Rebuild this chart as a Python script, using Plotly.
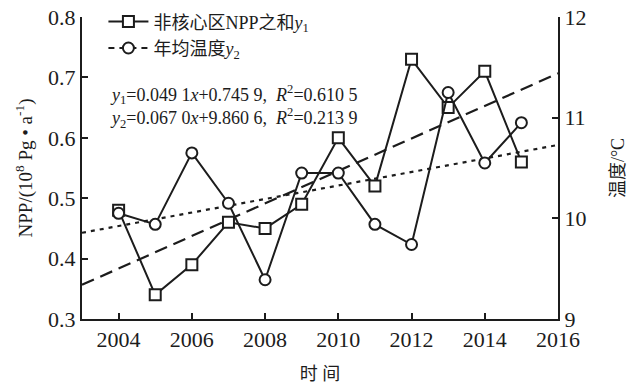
import numpy as np
import plotly.graph_objects as go

# ---- data ----
years = [2004, 2005, 2006, 2007, 2008, 2009, 2010, 2011, 2012, 2013, 2014, 2015]
npp_sum = [0.48, 0.34, 0.39, 0.46, 0.45, 0.49, 0.60, 0.52, 0.73, 0.65, 0.71, 0.56]
mean_temp = [10.05, 9.94, 10.65, 10.15, 9.39, 10.45, 10.45, 9.94, 9.74, 11.25, 10.55, 10.95]

x_ticks = [2004, 2006, 2008, 2010, 2012, 2014, 2016]
left_ticks = [0.3, 0.4, 0.5, 0.6, 0.7, 0.8]
right_ticks = [9, 10, 11, 12]

x_range = [2003, 2016]
left_range = [0.3, 0.8]
right_range = [9, 12]

legend_npp = "非核心区NPP之和<i>y</i><sub>1</sub>"
legend_temp = "年均温度<i>y</i><sub>2</sub>"
eq_lines = [
    "<i>y</i><sub>1</sub>=0.049 1<i>x</i>+0.745 9,  <i>R</i><sup>2</sup>=0.610 5",
    "<i>y</i><sub>2</sub>=0.067 0<i>x</i>+9.860 6,  <i>R</i><sup>2</sup>=0.213 9",
]
x_title = "时 间"
left_title = "NPP/(10<sup>8</sup> Pg • a<sup>-1</sup>)"
right_title = "温度/°C"

FONT = "Liberation Serif, Times New Roman, Noto Sans CJK SC, serif"
INK = "#1c1c1c"

# linear trends computed from the data, drawn across the x range
idx = np.array(years) - x_range[0]
p_npp = np.polyfit(idx, npp_sum, 1)
p_tmp = np.polyfit(idx, mean_temp, 1)
trend_x = np.array(x_range)
trend_npp = np.polyval(p_npp, trend_x - x_range[0])
trend_tmp = np.polyval(p_tmp, trend_x - x_range[0])

fig = go.Figure()

fig.add_trace(go.Scatter(
    x=trend_x, y=trend_npp, mode="lines", yaxis="y", showlegend=False,
    line=dict(color=INK, width=2.2, dash="13px,7px"), hoverinfo="skip"))
fig.add_trace(go.Scatter(
    x=trend_x, y=trend_tmp, mode="lines", yaxis="y2", showlegend=False,
    line=dict(color=INK, width=2.2, dash="4px,5px"), hoverinfo="skip"))

fig.add_trace(go.Scatter(
    x=years, y=npp_sum, mode="lines+markers", name=legend_npp, yaxis="y",
    line=dict(color=INK, width=2),
    marker=dict(symbol="square", size=11, color="white", line=dict(color=INK, width=2))))
fig.add_trace(go.Scatter(
    x=years, y=mean_temp, mode="lines+markers", name=legend_temp, yaxis="y2",
    showlegend=False,
    line=dict(color=INK, width=2),
    marker=dict(symbol="circle", size=11, color="white", line=dict(color=INK, width=2))))
# legend entry for temperature with a dashed key
fig.add_trace(go.Scatter(
    x=[None], y=[None], mode="lines+markers", name=legend_temp, yaxis="y2",
    line=dict(color=INK, width=2, dash="6px,5px"),
    marker=dict(symbol="circle", size=11, color="white", line=dict(color=INK, width=2))))

fig.add_annotation(
    xref="paper", yref="paper", x=0.055, y=0.705, xanchor="left", yanchor="middle",
    text=eq_lines[0] + "<br>" + eq_lines[1], showarrow=False, align="left",
    font=dict(family=FONT, size=18, color=INK))

axis_common = dict(
    showgrid=False, zeroline=False, showline=True, linecolor=INK, linewidth=2,
    ticks="inside", ticklen=6, tickwidth=2, tickcolor=INK, automargin=False,
    tickfont=dict(family=FONT, size=22, color=INK))

fig.update_layout(
    width=628, height=386,
    margin=dict(l=82, r=70, t=17, b=67, autoexpand=False),
    paper_bgcolor="white", plot_bgcolor="white",
    font=dict(family=FONT, color=INK),
    xaxis=dict(range=x_range, tickvals=x_ticks, ticktext=[str(v) for v in x_ticks],
               title=dict(text=x_title, font=dict(family=FONT, size=18, color=INK), standoff=16),
               **axis_common),
    yaxis=dict(range=left_range, tickvals=left_ticks,
               ticktext=[f"{v:.1f}" for v in left_ticks],
               title=dict(text=left_title, font=dict(family=FONT, size=19, color=INK), standoff=10),
               **axis_common),
    yaxis2=dict(range=right_range, tickvals=right_ticks,
                ticktext=[str(v) for v in right_ticks],
                overlaying="y", side="right",
                title=dict(text=right_title, font=dict(family=FONT, size=18, color=INK), standoff=26),
                **axis_common),
    legend=dict(x=0.045, y=1.045, xanchor="left", yanchor="top",
                bgcolor="rgba(0,0,0,0)", font=dict(family=FONT, size=18, color=INK),
                tracegroupgap=0, itemwidth=40),
    showlegend=True,
)

fig.write_html("out.html", config={"displayModeBar": False},
               post_script="document.body.style.margin='0';")
